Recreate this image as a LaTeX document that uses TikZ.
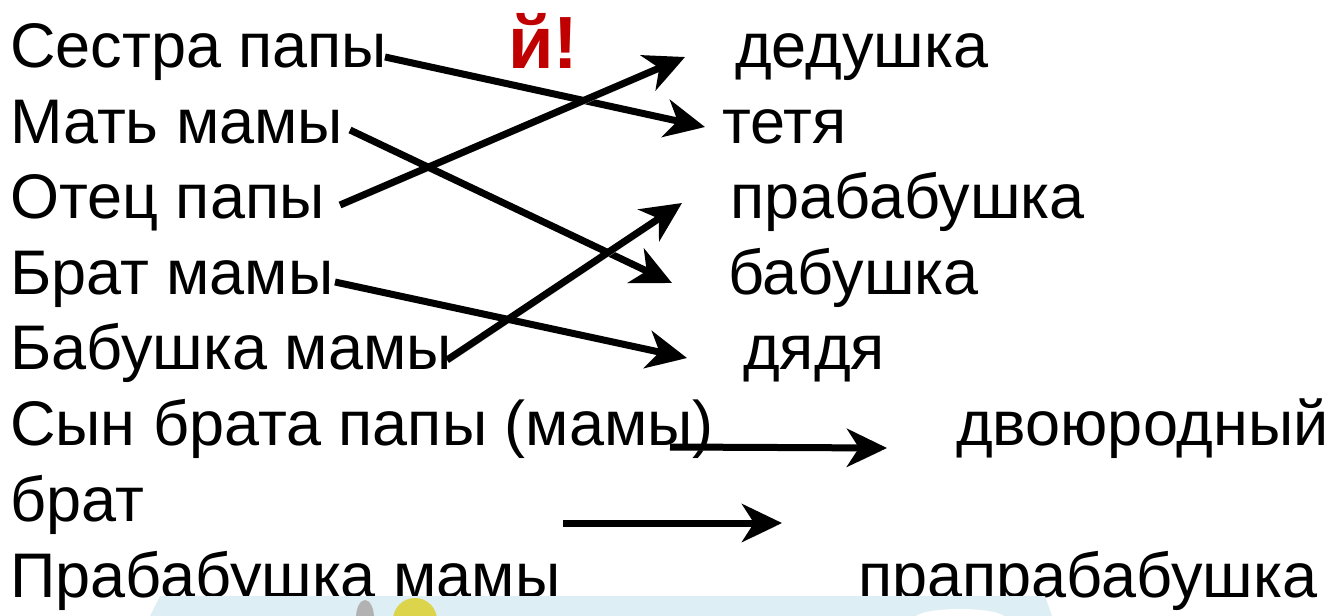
\documentclass[tikz,border=0pt]{standalone}
\usepackage{fontspec}
\setmainfont{Liberation Sans}
\usetikzlibrary{arrows.meta}
\definecolor{warnred}{HTML}{C00000}
\definecolor{bandblue}{HTML}{DDEEF4}
\definecolor{ballyellow}{HTML}{DCD44A}
\begin{document}
\begin{tikzpicture}[x=1pt,y=-1pt,
  lbl/.style={anchor=base west,inner sep=0pt,font=\fontsize{63}{72}\selectfont},
  arr/.style={line width=7pt,-{Stealth[length=40pt,width=38pt,inset=12pt]},
    preaction={draw=black!22,transform canvas={shift={(2pt,-3pt)}}}}]
\useasboundingbox (0,0) rectangle (1342,616);
% left column
\node[lbl] (l1) at (10,67)  {Сестра папы};
\node[lbl] (l2) at (10,143) {Мать мамы};
\node[lbl] (l3) at (10,218) {Отец папы};
\node[lbl] (l4) at (10,294) {Брат мамы};
\node[lbl] (l5) at (10,369) {Бабушка мамы};
\node[lbl] (l6) at (10,445) {Сын брата папы (мамы)};
\node[lbl] (l7) at (10,521) {брат};
\node[lbl] (l8) at (10,597) {Прабабушка мамы};
% right column
\node[lbl] (r1) at (735,67)  {дедушка};
\node[lbl] (r2) at (722,143) {тетя};
\node[lbl] (r3) at (730,218) {прабабушка};
\node[lbl] (r4) at (728,294) {бабушка};
\node[lbl] (r5) at (743,369) {дядя};
\node[lbl] (r6) at (956,445) {двоюродный};
\node[lbl] (r7) at (858,597) {прапрабабушка};
% red fragment
\node[lbl,font=\fontsize{74}{80}\selectfont\bfseries,text=warnred] (warn) at (508,68) {й!};
% arrows
\draw[arr] ([shift={(375,-10)}]l1.base west) -- ([shift={(-17,-16)}]r2.base west);
\draw[arr] ([shift={(330,-13)}]l3.base west) -- ([shift={(-50,-10)}]r1.base west);
\draw[arr] ([shift={(340,-13)}]l2.base west) -- ([shift={(-56,-11)}]r4.base west);
\draw[arr] ([shift={(437,-9)}]l5.base west) -- ([shift={(-48,-15)}]r3.base west);
\draw[arr] ([shift={(325,-12)}]l4.base west) -- ([shift={(-56,-11)}]r5.base west);
\draw[arr] ([shift={(660,2)}]l6.base west) -- ([shift={(-69,3)}]r6.base west);
\coordinate (free7) at (782,523);
\draw[arr] ([shift={(553,2)}]l7.base west) -- (free7);
% bottom band of an image
\fill[bandblue] (160,596) -- (1045,596) -- (1052,616) -- (150,616) -- cycle;
\fill[black!30] (365,618) ellipse (9 and 18);
\fill[ballyellow] (415,620) circle (22);
\fill[white] (960,618) ellipse (45 and 9);
\end{tikzpicture}
\end{document}
